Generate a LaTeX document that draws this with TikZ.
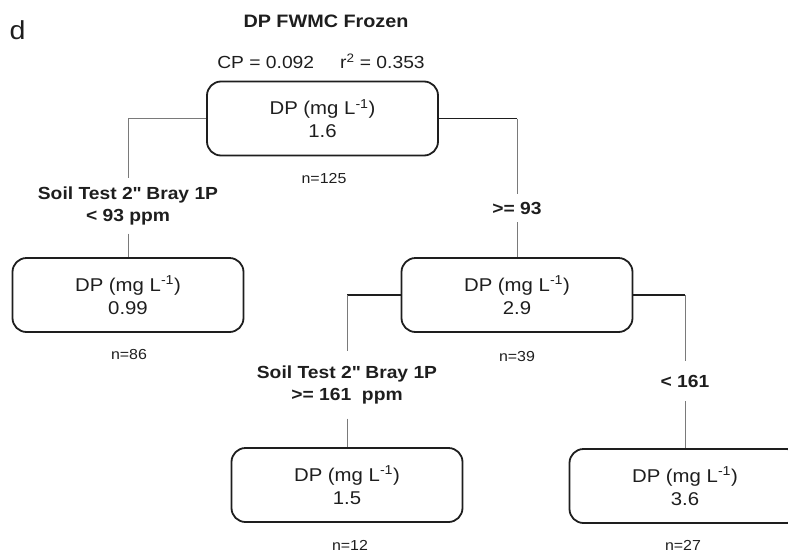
\documentclass[tikz,border=0pt]{standalone}
\usepackage{fontspec}
\setmainfont[FakeStretch=1.1]{Liberation Sans}
\usepackage{xcolor}
\usepackage{tikz}
\definecolor{treeInk}{HTML}{1E1E1E}
\definecolor{treeLine}{HTML}{7A7A7A}

\begin{document}
\begin{tikzpicture}[x=1pt, y=-1pt, line join=round,
  leafbox/.style={draw=treeInk, line width=1.8pt, rounded corners=14pt,
    minimum width=231pt, minimum height=74pt, align=center, text=treeInk,
    font=\fontsize{18.5}{23}\selectfont},
  splitlabel/.style={align=center, text=treeInk, inner ysep=8pt,
    font=\bfseries\fontsize{17.5}{22.5}\selectfont},
  countlabel/.style={text=treeInk, font=\fontsize{14.5}{17}\selectfont},
  thinbar/.style={draw=treeLine, line width=0.9pt},
  thickbar/.style={draw=treeInk, line width=1.8pt}]
  \useasboundingbox (0,0) rectangle (788,552);
  \clip (0,0) rectangle (788,552);
  % Panel letter and heading
  \node[font=\fontsize{26}{30}\selectfont, text=treeInk] (panel) at (17.5,30) {d};
  \node[font=\bfseries\fontsize{18}{22}\selectfont, text=treeInk] (title) at (326,21) {DP FWMC Frozen};
  \node[font=\fontsize{17.5}{21}\selectfont, text=treeInk] (fitstats) at (321,61)
    {CP = 0.092\hspace{26pt}r\textsuperscript{2} = 0.353};
  % Tree boxes
  \node[leafbox] (root) at (322.5,118.5) {DP (mg L\textsuperscript{-1})\\1.6};
  \node[leafbox] (lowP) at (128,295) {DP (mg L\textsuperscript{-1})\\0.99};
  \node[leafbox] (highP) at (517,295) {DP (mg L\textsuperscript{-1})\\2.9};
  \node[leafbox] (veryHigh) at (347,485) {DP (mg L\textsuperscript{-1})\\1.5};
  \node[leafbox] (midHigh) at (685,486) {DP (mg L\textsuperscript{-1})\\3.6};
  % Counts
  \node[countlabel] (nRoot) at (324,179) {n=125};
  \node[countlabel] (nLow) at (129,355) {n=86};
  \node[countlabel] (nHigh) at (517,357) {n=39};
  \node[countlabel] (nVery) at (350,545) {n=12};
  \node[countlabel] (nMid) at (683,545) {n=27};
  % Split rules
  \node[splitlabel] (splitA) at (128,206) {Soil Test 2\textquotedbl{} Bray 1P\\< 93 ppm};
  \node[splitlabel] (splitB) at (517,208) {>= 93};
  \node[splitlabel, inner ysep=14pt] (splitC) at (347,385) {Soil Test 2\textquotedbl{} Bray 1P\\>= 161\ \ ppm};
  \node[splitlabel, inner ysep=14pt] (splitD) at (685,381) {< 161};
  % Connectors from the root
  \draw[thinbar] (root.west) -| (splitA.north);
  \draw[thinbar] (splitA.south) -- (lowP.north);
  \draw[thickbar] (root.east) -- (root.east -| splitB.north);
  \draw[thinbar] (root.east -| splitB.north) -- (splitB.north);
  \draw[thinbar] (splitB.south) -- (highP.north);
  % Connectors from the second split
  \draw[thickbar] (highP.west) -- (highP.west -| splitC.north);
  \draw[thinbar] (highP.west -| splitC.north) -- (splitC.north);
  \draw[thinbar] (splitC.south) -- (veryHigh.north);
  \draw[thickbar] (highP.east) -- (highP.east -| splitD.north);
  \draw[thinbar] (highP.east -| splitD.north) -- (splitD.north);
  \draw[thinbar] (splitD.south) -- (midHigh.north);
\end{tikzpicture}
\end{document}
